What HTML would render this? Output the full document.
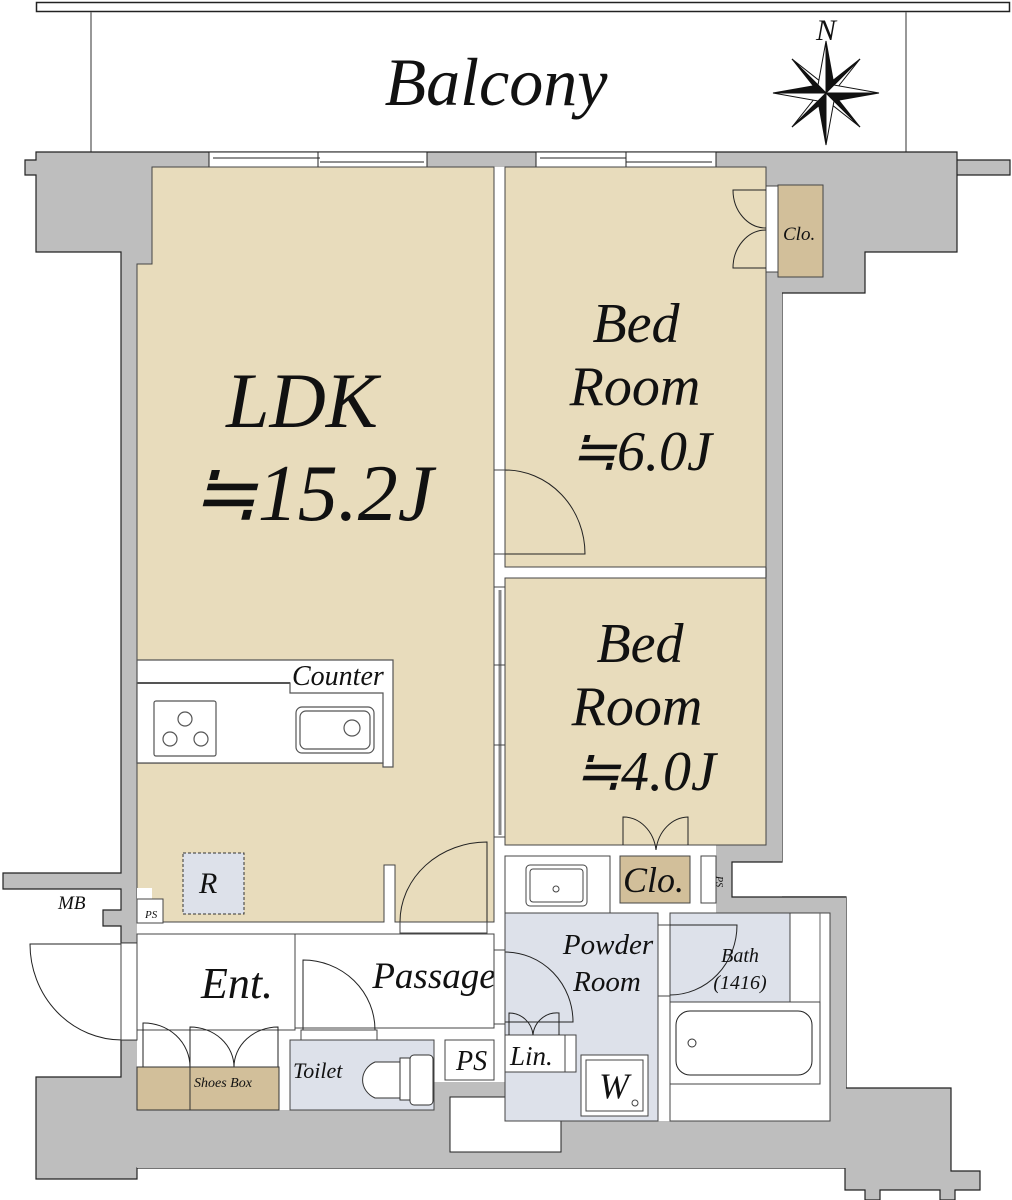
<!DOCTYPE html>
<html><head><meta charset="utf-8"><style>
html,body{margin:0;padding:0;background:#fff}
svg{display:block}
text{font-family:"Liberation Serif",serif;font-style:italic;fill:#111}
</style></head><body>
<svg width="1012" height="1200" viewBox="0 0 1012 1200" xmlns="http://www.w3.org/2000/svg">
<!-- balcony -->
<rect x="36.5" y="2.5" width="973" height="9" fill="#fff" stroke="#222" stroke-width="1.5"/>
<line x1="91" y1="12" x2="91" y2="152" stroke="#777" stroke-width="1.5"/>
<line x1="906" y1="12" x2="906" y2="152" stroke="#777" stroke-width="1.5"/>
<text x="496" y="105" font-size="68" text-anchor="middle">Balcony</text>
<!-- compass -->
<g transform="translate(826,93)" stroke="#111" stroke-width="1">
<polygon points="-34,-34 -5,-11 0,0" fill="#fff"/><polygon points="-34,-34 -11,-5 0,0" fill="#111"/>
<polygon points="34,-34 11,-5 0,0" fill="#fff"/><polygon points="34,-34 5,-11 0,0" fill="#111"/>
<polygon points="34,34 5,11 0,0" fill="#fff"/><polygon points="34,34 11,5 0,0" fill="#111"/>
<polygon points="-34,34 -11,5 0,0" fill="#fff"/><polygon points="-34,34 -5,11 0,0" fill="#111"/>
<polygon points="0,-52 8,-8 0,0" fill="#111"/><polygon points="0,-52 -8,-8 0,0" fill="#fff"/>
<polygon points="0,52 -8,8 0,0" fill="#111"/><polygon points="0,52 8,8 0,0" fill="#fff"/>
<polygon points="-53,0 -8,-8 0,0" fill="#111"/><polygon points="-53,0 -8,8 0,0" fill="#fff"/>
<polygon points="53,0 8,8 0,0" fill="#111"/><polygon points="53,0 8,-8 0,0" fill="#fff"/>
</g>
<text x="816" y="40" font-size="30">N</text>

<!-- outer gray walls -->
<g fill="#bebebe" stroke="#222" stroke-width="1.2">
<path d="M36,152 H957 V175 H1010 V160 H957 V252 H865 V293 H782 V862 H732 V897 H846 V1088 H951 V1171 H980 V1190 H955 V1200 H940 V1190 H880 V1200 H865 V1190 H845 V1168 H137 V1179 H36 V1077 H121 V1040 H137 V943 H121 V926 H103 V910 H121 V889 H3 V873 H121 V252 H36 V175 H25 V160 H36 Z"/>
</g>
<rect x="137" y="167" width="645" height="1001" fill="#fff"/>
<rect x="137" y="167" width="15" height="97" fill="#bebebe"/>
<line x1="152" y1="167" x2="152" y2="264" stroke="#222"/>
<line x1="137" y1="264" x2="152" y2="264" stroke="#222"/>
<rect x="766" y="167" width="16" height="695" fill="#bebebe"/>
<rect x="716" y="845" width="66" height="17" fill="#bebebe"/>
<rect x="716" y="862" width="16" height="51" fill="#bebebe"/>
<rect x="732" y="897" width="114" height="16" fill="#bebebe"/>
<path d="M782,862 H732 V897 H846" fill="none" stroke="#222" stroke-width="1.2"/>
<line x1="766" y1="167" x2="766" y2="845" stroke="#222"/>
<!-- bottom gray -->
<path d="M137,1110 H290 V1110 H434 V1082 H505 V1121 H830 V913 H846 V1168 H137 Z" fill="#bebebe"/>
<rect x="279" y="1040" width="11" height="70" fill="#fff"/>
<rect x="450" y="1097" width="111" height="55" fill="#fff" stroke="#222"/>
<!-- windows -->
<g fill="#fff" stroke="#222" stroke-width="1">
<rect x="209" y="152" width="218" height="15"/><rect x="536" y="152" width="180" height="15"/>
<line x1="213" y1="158" x2="320" y2="158"/><line x1="320" y1="162" x2="424" y2="162"/>
<line x1="318" y1="152" x2="318" y2="167"/><line x1="540" y1="158" x2="626" y2="158"/><line x1="626" y1="162" x2="712" y2="162"/><line x1="626" y1="152" x2="626" y2="167"/>
</g>
<!-- LDK -->
<path d="M152,167 H494 V922 H395 V865 H384 V922 H153 V900 H137 V264 H152 Z" fill="#e8dcbc" stroke="#444" stroke-width="1"/>
<rect x="137" y="888" width="15" height="34" fill="#fff"/>
<rect x="137" y="899" width="26" height="24" fill="#fff" stroke="#444"/>
<text x="145" y="918" font-size="11">PS</text>
<rect x="183" y="853" width="61" height="61" fill="#dde1ea" stroke="#333" stroke-dasharray="3,2"/>
<text x="199" y="893" font-size="30">R</text>
<text x="302" y="427" font-size="78" text-anchor="middle">LDK</text>
<text x="312" y="520" font-size="80" text-anchor="middle">≒15.2J</text>
<!-- counter -->
<g stroke="#555" stroke-width="1.2" fill="#fff">
<path d="M137,660 H393 V767 H383 V763 H137 Z"/>
<path d="M137,683 H290 V693 H383 V763 H137 Z" fill="#fff"/>
<line x1="137" y1="683" x2="290" y2="683" stroke-width="2"/>
<rect x="154" y="701" width="62" height="55" rx="2"/>
<rect x="296" y="707" width="78" height="46" rx="6"/>
<rect x="300" y="711" width="70" height="38" rx="6"/>
<circle cx="352" cy="728" r="8"/>
<circle cx="185" cy="719" r="7"/><circle cx="170" cy="739" r="7"/><circle cx="201" cy="739" r="7"/>
</g>
<text x="292" y="685" font-size="28">Counter</text>
<!-- bedroom 1 -->
<rect x="505" y="167" width="261" height="400" fill="#e8dcbc" stroke="#444"/>
<rect x="766" y="186" width="12" height="86" fill="#fff" stroke="#444"/>
<rect x="778" y="185" width="45" height="92" fill="#d2bf9a" stroke="#444"/>
<text x="783" y="240" font-size="19">Clo.</text>
<path d="M766,190 H733 A33,38 0 0 0 766,228 M766,268 H733 A33,38 0 0 1 766,230" fill="none" stroke="#222"/>
<text x="636" y="342" font-size="56" text-anchor="middle">Bed</text>
<text x="635" y="405" font-size="56" text-anchor="middle">Room</text>
<text x="641" y="470" font-size="56" text-anchor="middle">≒6.0J</text>
<path d="M505,470 V554 H585 A80,84 0 0 0 505,470" fill="none" stroke="#222"/>
<rect x="494" y="470" width="11" height="84" fill="#fff" stroke="#444"/>
<!-- bedroom 2 -->
<rect x="505" y="578" width="261" height="267" fill="#e8dcbc" stroke="#444"/>
<text x="640" y="662" font-size="56" text-anchor="middle">Bed</text>
<text x="637" y="725" font-size="56" text-anchor="middle">Room</text>
<text x="645" y="790" font-size="56" text-anchor="middle">≒4.0J</text>
<rect x="494" y="587" width="11" height="250" fill="#fff" stroke="#444"/>
<line x1="500" y1="590" x2="500" y2="665" stroke="#888" stroke-width="3"/><line x1="500" y1="665" x2="500" y2="835" stroke="#888" stroke-width="3"/>
<line x1="494" y1="665" x2="505" y2="665" stroke="#444"/><line x1="494" y1="745" x2="505" y2="745" stroke="#444"/>
<line x1="494" y1="175" x2="494" y2="922" stroke="#444"/>
<path d="M623,845 V817 A33,38 0 0 1 656,850 M688,845 V817 A33,38 0 0 0 656,850" fill="none" stroke="#222"/>
<!-- service area -->
<rect x="505" y="856" width="105" height="57" fill="#fff" stroke="#444"/>
<rect x="526" y="865" width="61" height="41" rx="4" fill="#fff" stroke="#444"/>
<rect x="530" y="869" width="53" height="33" rx="3" fill="#fff" stroke="#444"/>
<circle cx="556" cy="889" r="3" fill="#fff" stroke="#444"/>
<rect x="620" y="856" width="70" height="47" fill="#d2bf9a" stroke="#444"/>
<text x="623" y="892" font-size="36">Clo.</text>
<rect x="701" y="856" width="15" height="47" fill="#fff" stroke="#444"/>
<text x="704" y="872" font-size="10" transform="rotate(90 708 880)">PS</text>
<!-- LDK door -->
<path d="M487,922 V842 A87,80 0 0 0 400,922" fill="none" stroke="#222"/>
<rect x="400" y="922" width="87" height="11" fill="#fff" stroke="#444"/>
<!-- Ent / passage -->
<rect x="137" y="934" width="158" height="96" fill="#fff" stroke="#444"/>
<rect x="295" y="934" width="199" height="94" fill="#fff" stroke="#444"/>
<text x="237" y="998" font-size="44" text-anchor="middle">Ent.</text>
<text x="434" y="988" font-size="37" text-anchor="middle">Passage</text>
<path d="M303,1030 V960 A72,70 0 0 1 375,1030" fill="none" stroke="#222"/>
<rect x="301" y="1030" width="76" height="10" fill="#fff" stroke="#444"/>
<!-- entrance door -->
<path d="M122,944 H30 A92,96 0 0 0 122,1040" fill="none" stroke="#222"/>
<rect x="121" y="943" width="16" height="97" fill="#fff" stroke="#444"/>
<!-- shoes -->
<path d="M143,1067 V1023 A46,44 0 0 1 190,1067 M190,1067 V1027 A44,40 0 0 1 234,1067 M278,1067 V1027 A44,40 0 0 0 234,1067" fill="none" stroke="#222"/>
<rect x="137" y="1067" width="142" height="43" fill="#d2bf9a" stroke="#333"/>
<line x1="190" y1="1067" x2="190" y2="1110" stroke="#333"/>
<text x="194" y="1087" font-size="14">Shoes Box</text>
<!-- toilet -->
<rect x="290" y="1040" width="144" height="70" fill="#dde1ea" stroke="#444"/>
<text x="293" y="1078" font-size="22">Toilet</text>
<path d="M400,1062 H375 A22,20 0 0 0 375,1098 H400 Z" fill="#fff" stroke="#333"/>
<rect x="400" y="1058" width="10" height="42" fill="#fff" stroke="#333"/>
<rect x="410" y="1055" width="23" height="50" rx="4" fill="#fff" stroke="#333"/>
<rect x="445" y="1040" width="49" height="40" fill="#fff" stroke="#444"/>
<text x="456" y="1070" font-size="28">PS</text>
<!-- powder -->
<rect x="505" y="913" width="153" height="208" fill="#dde1ea" stroke="#444"/>
<text x="608" y="954" font-size="29" text-anchor="middle">Powder</text>
<text x="607" y="991" font-size="29" text-anchor="middle">Room</text>
<path d="M505,952 A68,70 0 0 1 573,1022 H505" fill="none" stroke="#222"/>
<rect x="494" y="950" width="11" height="74" fill="#fff" stroke="#444"/>
<rect x="505" y="1035" width="71" height="37" fill="#fff" stroke="#444"/>
<line x1="565" y1="1035" x2="565" y2="1072" stroke="#444"/>
<path d="M509,1035 V1013 A24,24 0 0 1 533,1035 M559,1035 V1013 A24,24 0 0 0 533,1035" fill="none" stroke="#222"/>
<text x="510" y="1065" font-size="27">Lin.</text>
<rect x="581" y="1055" width="67" height="61" fill="#fff" stroke="#444"/>
<rect x="586" y="1060" width="57" height="51" fill="#fff" stroke="#444"/>
<text x="599" y="1098" font-size="36">W</text>
<circle cx="635" cy="1103" r="3" fill="#fff" stroke="#444"/>
<!-- bath -->
<rect x="670" y="913" width="160" height="208" fill="#fff" stroke="#444"/>
<rect x="670" y="913" width="120" height="89" fill="#dde1ea" stroke="#444"/>
<line x1="820" y1="913" x2="820" y2="1084" stroke="#666"/>
<rect x="670" y="1002" width="150" height="82" fill="#fff" stroke="#444"/>
<rect x="676" y="1011" width="136" height="64" rx="14" fill="#fff" stroke="#222"/>
<circle cx="692" cy="1043" r="4" fill="#fff" stroke="#333"/>
<rect x="658" y="925" width="12" height="71" fill="#fff" stroke="#444"/>
<path d="M670,925 H737 A67,70 0 0 1 670,995" fill="none" stroke="#222"/>
<text x="740" y="962" font-size="20" text-anchor="middle">Bath</text>
<text x="740" y="989" font-size="20" text-anchor="middle">(1416)</text>
<!-- MB -->
<text x="58" y="909" font-size="19">MB</text>
</svg>
</body></html>
